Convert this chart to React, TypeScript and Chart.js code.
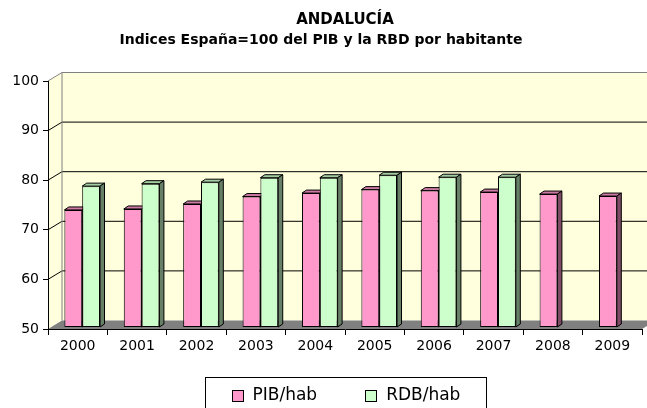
import React, { useEffect, useRef } from 'react';
import { Chart, registerables } from 'chart.js';

Chart.register(...registerables);

// ---- data ----
const YEARS = ['2000', '2001', '2002', '2003', '2004', '2005', '2006', '2007', '2008', '2009'];
const PIB_HAB = [73.7, 73.9, 74.9, 76.4, 77.1, 77.8, 77.6, 77.3, 76.9, 76.5];
const RDB_HAB = [78.5, 79.0, 79.3, 80.2, 80.2, 80.7, 80.3, 80.3, null, null];
const Y_MIN = 50;
const Y_MAX = 100;
const Y_STEP = 10;
const TITLE = 'ANDALUCÍA';
const SUBTITLE = 'Indices España=100 del PIB y la RBD por habitante';
const LABEL_PIB = 'PIB/hab';
const LABEL_RDB = 'RDB/hab';

// ---- styles ----
const FONT = "'DejaVu Sans', sans-serif";
const PIB_FRONT = '#FF99CC';
const PIB_TOP = '#CC7AA3';
const PIB_SIDE = '#7F4C66';
const RDB_FRONT = '#CCFFCC';
const RDB_TOP = '#A3CCA3';
const RDB_SIDE = '#667F66';
const WALL = '#FFFFDD';
const FLOOR = '#808080';
const WALL_DX = 14;
const WALL_DY = -8.5;
const BAR_DX = 4.5;
const BAR_DY = -1.5;
const DEPTH_X = 4.5;
const DEPTH_Y = -3;

function drawFaces(ctx: CanvasRenderingContext2D, chart: any, dsIndex: number, top: string, side: string) {
  const meta = chart.getDatasetMeta(dsIndex);
  const data = chart.data.datasets[dsIndex].data;
  const bottom = chart.chartArea.bottom;
  meta.data.forEach((el: any, i: number) => {
    if (data[i] == null) return;
    const p = el.getProps(['x', 'y', 'base', 'width'], true);
    const l = p.x - p.width / 2;
    const r = p.x + p.width / 2;
    const t = Math.min(p.y, p.base);
    const b = Math.min(Math.max(p.y, p.base), bottom);
    ctx.lineWidth = 1;
    ctx.strokeStyle = '#000';
    ctx.beginPath();
    ctx.moveTo(l, t);
    ctx.lineTo(r, t);
    ctx.lineTo(r + DEPTH_X, t + DEPTH_Y);
    ctx.lineTo(l + DEPTH_X, t + DEPTH_Y);
    ctx.closePath();
    ctx.fillStyle = top;
    ctx.fill();
    ctx.stroke();
    ctx.beginPath();
    ctx.moveTo(r, t);
    ctx.lineTo(r + DEPTH_X, t + DEPTH_Y);
    ctx.lineTo(r + DEPTH_X, b + DEPTH_Y);
    ctx.lineTo(r, b);
    ctx.closePath();
    ctx.fillStyle = side;
    ctx.fill();
    ctx.stroke();
  });
}

const threeD = {
  id: 'threeD',
  beforeDraw(chart: any) {
    const { ctx, chartArea } = chart;
    const { left: L, right: R, top: T, bottom: B } = chartArea;
    const y = chart.scales.y;
    ctx.save();
    ctx.fillStyle = WALL;
    ctx.beginPath();
    ctx.moveTo(L, T);
    ctx.lineTo(L + WALL_DX, T + WALL_DY);
    ctx.lineTo(R + WALL_DX, T + WALL_DY);
    ctx.lineTo(R + WALL_DX, B + WALL_DY);
    ctx.lineTo(L + WALL_DX, B + WALL_DY);
    ctx.lineTo(L, B);
    ctx.closePath();
    ctx.fill();
    ctx.fillStyle = FLOOR;
    ctx.beginPath();
    ctx.moveTo(L, B);
    ctx.lineTo(R, B);
    ctx.lineTo(R + WALL_DX, B + WALL_DY);
    ctx.lineTo(L + WALL_DX, B + WALL_DY);
    ctx.closePath();
    ctx.fill();
    ctx.lineWidth = 1;
    y.ticks.forEach((tk: any) => {
      if (tk.value === Y_MIN) return;
      const yy = y.getPixelForValue(tk.value);
      ctx.strokeStyle = tk.value === Y_MAX ? '#808080' : '#000';
      ctx.beginPath();
      ctx.moveTo(L, yy);
      ctx.lineTo(L + WALL_DX, yy + WALL_DY);
      ctx.lineTo(R + WALL_DX, yy + WALL_DY);
      ctx.stroke();
    });
    ctx.strokeStyle = '#808080';
    ctx.beginPath();
    ctx.moveTo(L + WALL_DX, T + WALL_DY);
    ctx.lineTo(L + WALL_DX, B + WALL_DY);
    ctx.stroke();
    ctx.restore();
  },
  beforeDatasetsDraw(chart: any) {
    const ctx = chart.ctx;
    ctx.save();
    ctx.translate(BAR_DX, BAR_DY);
    drawFaces(ctx, chart, 0, PIB_TOP, PIB_SIDE);
  },
  afterDatasetsDraw(chart: any) {
    const ctx = chart.ctx;
    drawFaces(ctx, chart, 1, RDB_TOP, RDB_SIDE);
    ctx.restore();
  },
  afterDraw(chart: any) {
    const { ctx, chartArea, height } = chart;
    const items = chart.data.datasets.map((ds: any) => ({ text: ds.label, color: ds.backgroundColor }));
    ctx.save();
    ctx.font = `17px ${FONT}`;
    const box = 12;
    const gap = 9;
    const itemGap = 48;
    const pad = 26;
    const widths = items.map((it: any) => ctx.measureText(it.text).width);
    const content = widths.reduce((a: number, w: number) => a + box + gap + w, 0) + itemGap * (items.length - 1);
    const boxW = content + pad * 2;
    const cx = (chartArea.left + chartArea.right) / 2;
    const bx = Math.round(cx - boxW / 2) + 0.5;
    const by = height - 31 + 0.5;
    ctx.strokeStyle = '#000';
    ctx.lineWidth = 1;
    ctx.strokeRect(bx, by, Math.round(boxW), 40);
    const cy = height - 12;
    let x = bx + pad;
    ctx.textBaseline = 'middle';
    ctx.textAlign = 'left';
    items.forEach((it: any, i: number) => {
      ctx.fillStyle = it.color;
      ctx.fillRect(Math.round(x), Math.round(cy - box / 2), box, box);
      ctx.strokeRect(Math.round(x) + 0.5, Math.round(cy - box / 2) + 0.5, box - 1, box - 1);
      ctx.fillStyle = '#000';
      ctx.fillText(it.text, x + box + gap, cy);
      x += box + gap + widths[i] + itemGap;
    });
    ctx.restore();
  },
};

export default function App() {
  const ref = useRef<HTMLCanvasElement | null>(null);
  useEffect(() => {
    if (!ref.current) return;
    const chart = new Chart(ref.current, {
      type: 'bar',
      data: {
        labels: YEARS,
        datasets: [
          {
            label: LABEL_PIB,
            data: PIB_HAB,
            base: Y_MIN,
            backgroundColor: PIB_FRONT,
            borderColor: '#000',
            borderWidth: 1,
            borderSkipped: false,
            categoryPercentage: 0.6,
            barPercentage: 1,
          },
          {
            label: LABEL_RDB,
            data: RDB_HAB as any,
            base: Y_MIN,
            backgroundColor: RDB_FRONT,
            borderColor: '#000',
            borderWidth: 1,
            borderSkipped: false,
            categoryPercentage: 0.6,
            barPercentage: 1,
          },
        ],
      },
      options: {
        responsive: false,
        animation: false,
        layout: { padding: { left: 0, right: 5, top: 0, bottom: 23 } },
        plugins: {
          legend: { display: false },
          tooltip: { enabled: false },
          title: {
            display: true,
            fullSize: false,
            text: TITLE,
            color: '#000',
            font: { family: FONT, size: 15, weight: 'bold', lineHeight: 20 / 15 },
            padding: { top: 10.5, bottom: 0 },
          },
          subtitle: {
            display: true,
            fullSize: true,
            text: SUBTITLE,
            color: '#000',
            font: { family: FONT, size: 14, weight: 'bold', lineHeight: 20 / 14 },
            padding: { top: 0, bottom: 30.5 },
          },
        },
        scales: {
          x: {
            offset: true,
            grid: { drawOnChartArea: false, drawTicks: true, tickLength: 6, color: '#000', offset: true },
            border: { display: true, color: '#000' },
            ticks: { color: '#000', font: { family: FONT, size: 14 }, padding: 3, maxRotation: 0, autoSkip: false },
            afterFit: (s: any) => {
              s.height = 56;
            },
          },
          y: {
            min: Y_MIN,
            max: Y_MAX,
            grid: { drawOnChartArea: false, drawTicks: true, tickLength: 5, color: '#000' },
            border: { display: true, color: '#000' },
            ticks: { stepSize: Y_STEP, color: '#000', font: { family: FONT, size: 14 }, padding: 4 },
            afterFit: (s: any) => {
              s.width = 48;
            },
          },
        },
      },
      plugins: [threeD],
    });
    return () => chart.destroy();
  }, []);
  return (
    <div style={{ position: 'absolute', left: 0, top: 0, width: 647, height: 408, background: '#fff' }}>
      <canvas ref={ref} width={647} height={408} />
    </div>
  );
}
